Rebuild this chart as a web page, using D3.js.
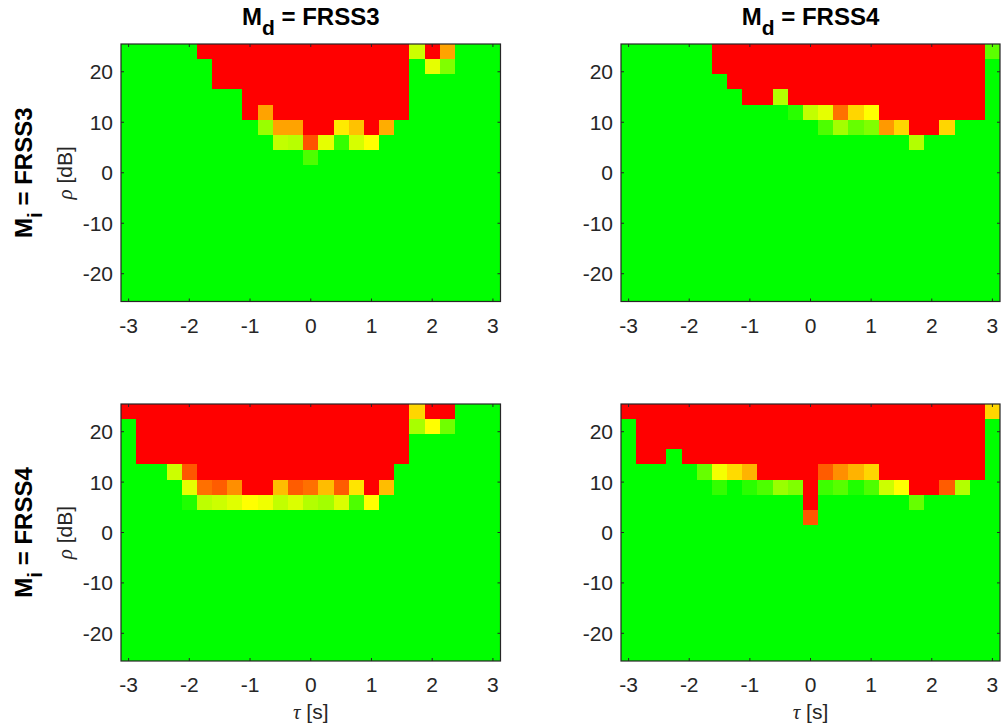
<!DOCTYPE html>
<html>
<head>
<meta charset="utf-8">
<script src="https://cdn.jsdelivr.net/npm/d3@7"></script>
<style>
  body { margin: 0; background: #fff; }
  text { font-family: "Liberation Sans", Arial, sans-serif; fill: #262626; }
</style>
</head>
<body>
<svg id="chart" width="1001" height="727"></svg>
<script>

// tau [s] column centres and rho [dB] row centres (top row first)
var taus = [-3, -2.75, -2.5, -2.25, -2, -1.75, -1.5, -1.25, -1, -0.75, -0.5, -0.25, 0,
            0.25, 0.5, 0.75, 1, 1.25, 1.5, 1.75, 2, 2.25, 2.5, 2.75, 3];
var rhos = [24, 21, 18, 15, 12, 9, 6, 3, 0, -3, -6, -9, -12, -15, -18, -21, -24];

var xTicks = [-3, -2, -1, 0, 1, 2, 3];
var yTicks = [-20, -10, 0, 10, 20];

var colTitles = ["FRSS3", "FRSS4"];
var rowTitles = ["FRSS3", "FRSS4"];

var z0 = [0,0,0,0,0,0,0,0,0,0,0,0,0,0,0,0,0,0,0,0,0,0,0,0,0];

// 0 = green, 0.5 = yellow, 1 = red
var gridMd3Mi3 = [
  [0,0,0,0,0,1,1,1,1,1,1,1,1,1,1,1,1,1,1,0.4,1,0.68,0,0,0],
  [0,0,0,0,0,0,1,1,1,1,1,1,1,1,1,1,1,1,1,0,0.45,0.25,0,0,0],
  [0,0,0,0,0,0,1,1,1,1,1,1,1,1,1,1,1,1,1,0,0,0,0,0,0],
  [0,0,0,0,0,0,0,0,1,1,1,1,1,1,1,1,1,1,1,0,0,0,0,0,0],
  [0,0,0,0,0,0,0,0,1,0.68,1,1,1,1,1,1,1,1,1,0,0,0,0,0,0],
  [0,0,0,0,0,0,0,0,0,0.3,0.68,0.68,1,1,0.54,0.62,1,0.66,0,0,0,0,0,0,0],
  [0,0,0,0,0,0,0,0,0,0,0.38,0.36,0.84,0.45,0.1,0.42,0.5,0,0,0,0,0,0,0,0],
  [0,0,0,0,0,0,0,0,0,0,0,0,0.15,0,0,0,0,0,0,0,0,0,0,0,0],
  z0, z0, z0, z0, z0, z0, z0, z0, z0
];

var gridMd4Mi3 = [
  [0,0,0,0,0,0,1,1,1,1,1,1,1,1,1,1,1,1,1,1,1,1,1,1,0.18],
  [0,0,0,0,0,0,1,1,1,1,1,1,1,1,1,1,1,1,1,1,1,1,1,1,0],
  [0,0,0,0,0,0,0,1,1,1,1,1,1,1,1,1,1,1,1,1,1,1,1,1,0],
  [0,0,0,0,0,0,0,0,1,1,0.35,1,1,1,1,1,1,1,1,1,1,1,1,1,0],
  [0,0,0,0,0,0,0,0,0,0,0,0.08,0.38,0.45,0.78,0.58,0.5,1,1,1,1,1,1,1,0],
  [0,0,0,0,0,0,0,0,0,0,0,0,0,0.15,0.32,0.2,0.25,0.7,0.58,1,1,0.58,0,0,0],
  [0,0,0,0,0,0,0,0,0,0,0,0,0,0,0,0,0,0,0,0.35,0,0,0,0,0],
  z0, z0, z0, z0, z0, z0, z0, z0, z0, z0
];

var gridMd3Mi4 = [
  [1,1,1,1,1,1,1,1,1,1,1,1,1,1,1,1,1,1,1,0.58,1,1,0,0,0],
  [0,1,1,1,1,1,1,1,1,1,1,1,1,1,1,1,1,1,1,0.33,0.5,0.22,0,0,0],
  [0,1,1,1,1,1,1,1,1,1,1,1,1,1,1,1,1,1,1,0,0,0,0,0,0],
  [0,1,1,1,1,1,1,1,1,1,1,1,1,1,1,1,1,1,1,0,0,0,0,0,0],
  [0,0,0,0.4,0.83,1,1,1,1,1,1,1,1,1,1,1,1,1,0,0,0,0,0,0,0],
  [0,0,0,0,0.45,0.78,0.82,0.72,1,1,0.63,0.82,0.78,0.63,0.82,0.55,1,0.63,0,0,0,0,0,0,0],
  [0,0,0,0,0.06,0.37,0.4,0.44,0.5,0.47,0.38,0.43,0.35,0.32,0.43,0.15,0.5,0,0,0,0,0,0,0,0],
  z0, z0, z0, z0, z0, z0, z0, z0, z0, z0
];

var gridMd4Mi4 = [
  [1,1,1,1,1,1,1,1,1,1,1,1,1,1,1,1,1,1,1,1,1,1,1,1,0.58],
  [0,1,1,1,1,1,1,1,1,1,1,1,1,1,1,1,1,1,1,1,1,1,1,1,0],
  [0,1,1,1,1,1,1,1,1,1,1,1,1,1,1,1,1,1,1,1,1,1,1,1,0],
  [0,1,1,0,1,1,1,1,1,1,1,1,1,1,1,1,1,1,1,1,1,1,1,1,0],
  [0,0,0,0,0,0.2,0.48,0.57,0.65,1,1,1,1,0.82,0.72,0.65,0.58,1,1,1,1,1,1,1,0],
  [0,0,0,0,0,0,0.1,0,0.08,0.15,0.3,0.25,1,0.12,0.17,0.06,0.15,0.4,0.5,1,1,0.82,0.35,0,0],
  [0,0,0,0,0,0,0,0,0,0,0,0,1,0,0,0,0,0,0,0.2,0,0,0,0,0],
  [0,0,0,0,0,0,0,0,0,0,0,0,0.83,0,0,0,0,0,0,0,0,0,0,0,0],
  z0, z0, z0, z0, z0, z0, z0, z0, z0
];

var svg = d3.select("#chart");

var color = d3.scaleLinear()
    .domain([0, 0.5, 1])
    .range(["#00ff00", "#ffff00", "#ff0000"]);

var cols = [{left: 121, right: 500.5}, {left: 621, right: 1000}];
var rows = [{top: 44, bottom: 301.5}, {top: 404, bottom: 661}];

var panels = [
  {grid: gridMd3Mi3, c: 0, r: 0},
  {grid: gridMd4Mi3, c: 1, r: 0},
  {grid: gridMd3Mi4, c: 0, r: 1},
  {grid: gridMd4Mi4, c: 1, r: 1}
];

var frameColor = "#262626";

panels.forEach(function(p) {
    var c = cols[p.c], r = rows[p.r];

    var x = d3.scaleLinear().domain([-3.125, 3.125]).range([c.left, c.right]);
    var y = d3.scaleLinear().domain([-25.5, 25.5]).range([r.bottom, r.top]);

    var g = svg.append("g");

    var cells = [];
    p.grid.forEach(function(row, i) {
        row.forEach(function(v, j) {
            cells.push({tau: taus[j], rho: rhos[i], v: v});
        });
    });

    g.selectAll("rect.cell")
        .data(cells)
        .enter().append("rect")
        .attr("class", "cell")
        .attr("x", d => x(d.tau - 0.125))
        .attr("y", d => y(d.rho + 1.5))
        .attr("width", d => x(d.tau + 0.125) - x(d.tau - 0.125) + 0.4)
        .attr("height", d => y(d.rho - 1.5) - y(d.rho + 1.5) + 0.4)
        .attr("fill", d => color(d.v))
        .attr("shape-rendering", "crispEdges");

    // box with inward ticks on all four sides
    g.append("rect")
        .attr("x", c.left)
        .attr("y", r.top)
        .attr("width", c.right - c.left)
        .attr("height", r.bottom - r.top)
        .attr("fill", "none")
        .attr("stroke", frameColor)
        .attr("stroke-width", 1.2);

    var tl = 3;
    g.selectAll("line.xt")
        .data(xTicks)
        .enter().append("path")
        .attr("d", d => "M" + x(d) + "," + r.bottom + "v" + (-tl) + "M" + x(d) + "," + r.top + "v" + tl)
        .attr("stroke", frameColor);

    g.selectAll("line.yt")
        .data(yTicks)
        .enter().append("path")
        .attr("d", d => "M" + c.left + "," + y(d) + "h" + tl + "M" + c.right + "," + y(d) + "h" + (-tl))
        .attr("stroke", frameColor);

    g.selectAll("text.xl")
        .data(xTicks)
        .enter().append("text")
        .attr("x", d => x(d))
        .attr("y", r.bottom + 31)
        .attr("text-anchor", "middle")
        .style("font-size", "21px")
        .text(d => d);

    g.selectAll("text.yl")
        .data(yTicks)
        .enter().append("text")
        .attr("x", c.left - 8)
        .attr("y", d => y(d))
        .attr("dy", "0.36em")
        .attr("text-anchor", "end")
        .style("font-size", "21px")
        .text(d => d);

    if (p.c == 0) {
        var yl = g.append("text")
            .attr("transform", "translate(72," + ((r.top + r.bottom) / 2) + ") rotate(-90)")
            .attr("text-anchor", "middle")
            .style("font-size", "21px");
        yl.append("tspan")
            .style("font-family", "'Liberation Serif', 'DejaVu Serif', serif")
            .style("font-style", "italic")
            .text("\u03c1");
        yl.append("tspan").text(" [dB]");
    }

    if (p.r == 1) {
        var xl = g.append("text")
            .attr("x", (c.left + c.right) / 2)
            .attr("y", r.bottom + 58)
            .attr("text-anchor", "middle")
            .style("font-size", "21px");
        xl.append("tspan")
            .style("font-family", "'Liberation Serif', 'DejaVu Serif', serif")
            .style("font-style", "italic")
            .text("\u03c4");
        xl.append("tspan").text(" [s]");
    }
});

// column titles
colTitles.forEach(function(t, i) {
    var c = cols[i];
    var tt = svg.append("text")
        .attr("x", (c.left + c.right) / 2)
        .attr("y", 25)
        .attr("text-anchor", "middle")
        .style("font-size", "24px")
        .style("font-weight", "bold")
        .style("fill", "#000");
    tt.append("tspan").text("M");
    tt.append("tspan").attr("dy", 10).style("font-size", "21px").text("d");
    tt.append("tspan").attr("dy", -10).text(" = " + t);
});

// row titles
rowTitles.forEach(function(t, i) {
    var r = rows[i];
    var tt = svg.append("text")
        .attr("transform", "translate(32," + ((r.top + r.bottom) / 2) + ") rotate(-90)")
        .attr("text-anchor", "middle")
        .style("font-size", "24px")
        .style("font-weight", "bold")
        .style("fill", "#000");
    tt.append("tspan").text("M");
    tt.append("tspan").attr("dy", 10).style("font-size", "21px").text("i");
    tt.append("tspan").attr("dy", -10).text(" = " + t);
});

</script>
</body>
</html>
